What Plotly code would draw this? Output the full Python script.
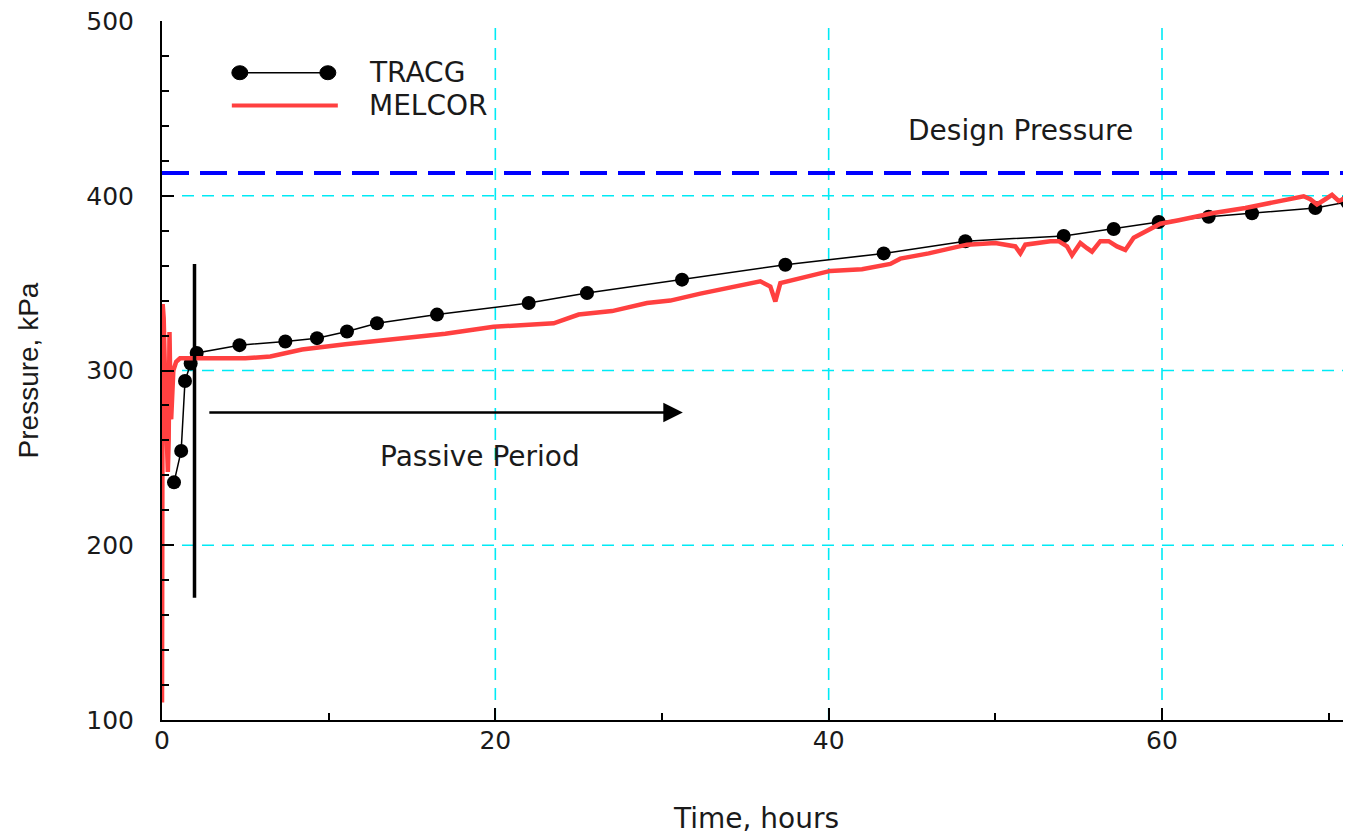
import plotly.graph_objects as go

# ---------------- data ----------------
tracg_t = [0.72, 1.15, 1.38, 1.72, 2.08, 4.65, 7.4, 9.3, 11.1, 12.9, 16.5, 22.0, 25.5,
           31.2, 37.4, 43.3, 48.2, 54.1, 57.1, 59.8, 62.8, 65.4, 69.2, 71.1]
tracg_p = [236, 254, 294, 304, 310, 314.5, 316.6, 318.5, 322.3, 327, 332, 338.6, 344.3,
           352, 360.5, 367, 374, 377, 381, 385, 388, 390, 393, 396.5]

melcor_t = [0.0, 0.02, 0.04, 0.1, 0.2, 0.3, 0.35, 0.4, 0.45, 0.5, 0.55, 0.68, 0.85, 1.08,
            1.4, 2.0, 3.0, 5.0, 6.5, 8.4, 11.0, 14.3, 17.0, 19.9, 22.0, 23.5, 25.0, 27.0,
            29.1, 30.5, 32.3, 34.7, 35.9, 36.5, 36.8, 37.1, 38.5, 40.1, 42.0, 43.7, 44.3,
            46.0, 48.3, 50.0, 51.2, 51.5, 51.8, 52.5, 53.3, 53.8, 54.3, 54.6, 55.1, 55.5,
            55.8, 56.3, 56.8, 57.3, 57.8, 58.3, 59.0, 59.9, 61.0, 63.0, 65.0, 67.0, 68.5,
            68.9, 69.3, 69.8, 70.2, 70.6, 71.1, 71.4]
melcor_p = [110, 230, 338, 330, 290, 248, 242, 260, 322, 290, 272, 300, 305, 307,
            307, 307, 307, 307, 308, 312, 315, 318, 321, 325, 326, 327, 332, 334,
            338.6, 340, 344, 349, 351, 348, 339.5, 350, 353, 357, 358, 361, 364,
            367, 372, 373, 371, 367, 372, 373, 374, 374, 371, 366, 373, 370,
            368, 374, 374, 371, 369, 376, 379.6, 384, 386, 390, 393, 397, 399.7,
            398, 395, 398, 400.5, 397, 398.7, 400]

design_pressure = 413
x_grid = [20, 40, 60]
y_grid = [200, 300, 400]

# annotation geometry (data units)
passive_line_t = 1.95
passive_line_p = [170, 361]
arrow_t = [2.75, 31.25]
arrow_p = 276

FONT_H = "DejaVu Sans"
TXT = "#1a1a1a"
RED = "#ff4040"
CYAN = "#00eaf5"

fig = go.Figure()
fig.add_trace(go.Scatter(x=tracg_t, y=tracg_p, mode="lines+markers", name="TRACG",
                         line=dict(color="black", width=1.5),
                         marker=dict(color="black", size=14)))
fig.add_trace(go.Scatter(x=melcor_t, y=melcor_p, mode="lines", name="MELCOR",
                         line=dict(color=RED, width=4.5)))

# grid lines
for gx in x_grid:
    fig.add_shape(type="line", x0=gx, x1=gx, y0=0, y1=1, xref="x", yref="paper",
                  line=dict(color=CYAN, width=1.6, dash="12px,8px"), layer="below")
for gy in y_grid:
    fig.add_shape(type="line", x0=0, x1=1, y0=gy, y1=gy, xref="paper", yref="y",
                  line=dict(color=CYAN, width=1.6, dash="12px,8px"), layer="below")

# design pressure
fig.add_shape(type="line", x0=0, x1=1, y0=design_pressure, y1=design_pressure,
              xref="paper", yref="y", line=dict(color="#0000ff", width=4, dash="27px,11px"))

# passive period marker
fig.add_shape(type="line", x0=passive_line_t, x1=passive_line_t,
              y0=passive_line_p[0], y1=passive_line_p[1], xref="x", yref="y",
              line=dict(color="black", width=3.5))
fig.add_annotation(x=arrow_t[1], y=arrow_p, ax=arrow_t[0], ay=arrow_p,
                   xref="x", yref="y", axref="x", ayref="y", text="",
                   showarrow=True, arrowhead=2, arrowsize=1.5, arrowwidth=2.6,
                   arrowcolor="black", standoff=0)

fig.add_annotation(x=19.1, y=251, xref="x", yref="y", text="Passive Period",
                   showarrow=False, font=dict(family=FONT_H, size=28, color=TXT))
fig.add_annotation(x=51.5, y=437.5, xref="x", yref="y", text="Design Pressure",
                   showarrow=False, font=dict(family=FONT_H, size=28, color=TXT))

# manual legend
leg_y1, leg_y2 = 470.4, 451.6
fig.add_shape(type="line", x0=4.67, x1=9.95, y0=leg_y1, y1=leg_y1, xref="x", yref="y",
              line=dict(color="black", width=1.5))
for mx in (4.67, 9.95):
    fig.add_shape(type="circle", xref="x", yref="y", xsizemode="pixel", ysizemode="pixel",
                  xanchor=mx, yanchor=leg_y1, x0=-8, x1=8, y0=-7, y1=7,
                  fillcolor="black", line=dict(color="black", width=1))
fig.add_shape(type="line", x0=4.19, x1=10.55, y0=leg_y2, y1=leg_y2, xref="x", yref="y",
              line=dict(color=RED, width=4))
fig.add_annotation(x=12.28, y=leg_y1, xref="x", yref="y", text="TRACG", xanchor="left",
                   showarrow=False, font=dict(family=FONT_H, size=28, color=TXT))
fig.add_annotation(x=12.28, y=leg_y2, xref="x", yref="y", text="MELCOR", xanchor="left",
                   showarrow=False, font=dict(family=FONT_H, size=28, color=TXT))

# page body has an 8px default margin, so the figure is sized to fill the rest
fig.update_layout(
    width=1343, height=829,
    margin=dict(l=154, r=0, t=13, b=117),
    plot_bgcolor="white", paper_bgcolor="white",
    showlegend=False,
    font=dict(family=FONT_H, color=TXT),
)
fig.update_xaxes(
    range=[0, 71.34], tickmode="linear", tick0=0, dtick=20, automargin=False,
    ticks="inside", ticklen=12, tickwidth=2, tickcolor="black",
    showline=True, linecolor="black", linewidth=2,
    showgrid=False, zeroline=False, ticklabeloverflow="allow",
    minor=dict(tick0=0, dtick=10, ticks="inside", ticklen=7, tickwidth=2, tickcolor="black",
               showgrid=False),
    tickfont=dict(family=FONT_H, size=25, color=TXT), ticklabelstandoff=-3,
    title=dict(text="Time, hours", font=dict(family=FONT_H, size=28, color=TXT), standoff=54),
)
fig.update_yaxes(
    range=[100, 500], tickmode="linear", tick0=100, dtick=100, automargin=False,
    ticks="inside", ticklen=12, tickwidth=2, tickcolor="black",
    showline=True, linecolor="black", linewidth=2,
    showgrid=False, zeroline=False, ticklabeloverflow="allow",
    minor=dict(tick0=100, dtick=20, ticks="inside", ticklen=7, tickwidth=2, tickcolor="black",
               showgrid=False),
    tickfont=dict(family=FONT_H, size=25, color=TXT), ticklabelstandoff=21,
    title=dict(text="Pressure, kPa", font=dict(family="Liberation Sans", size=28, color=TXT),
               standoff=39),
)

fig.write_html("out.html")
